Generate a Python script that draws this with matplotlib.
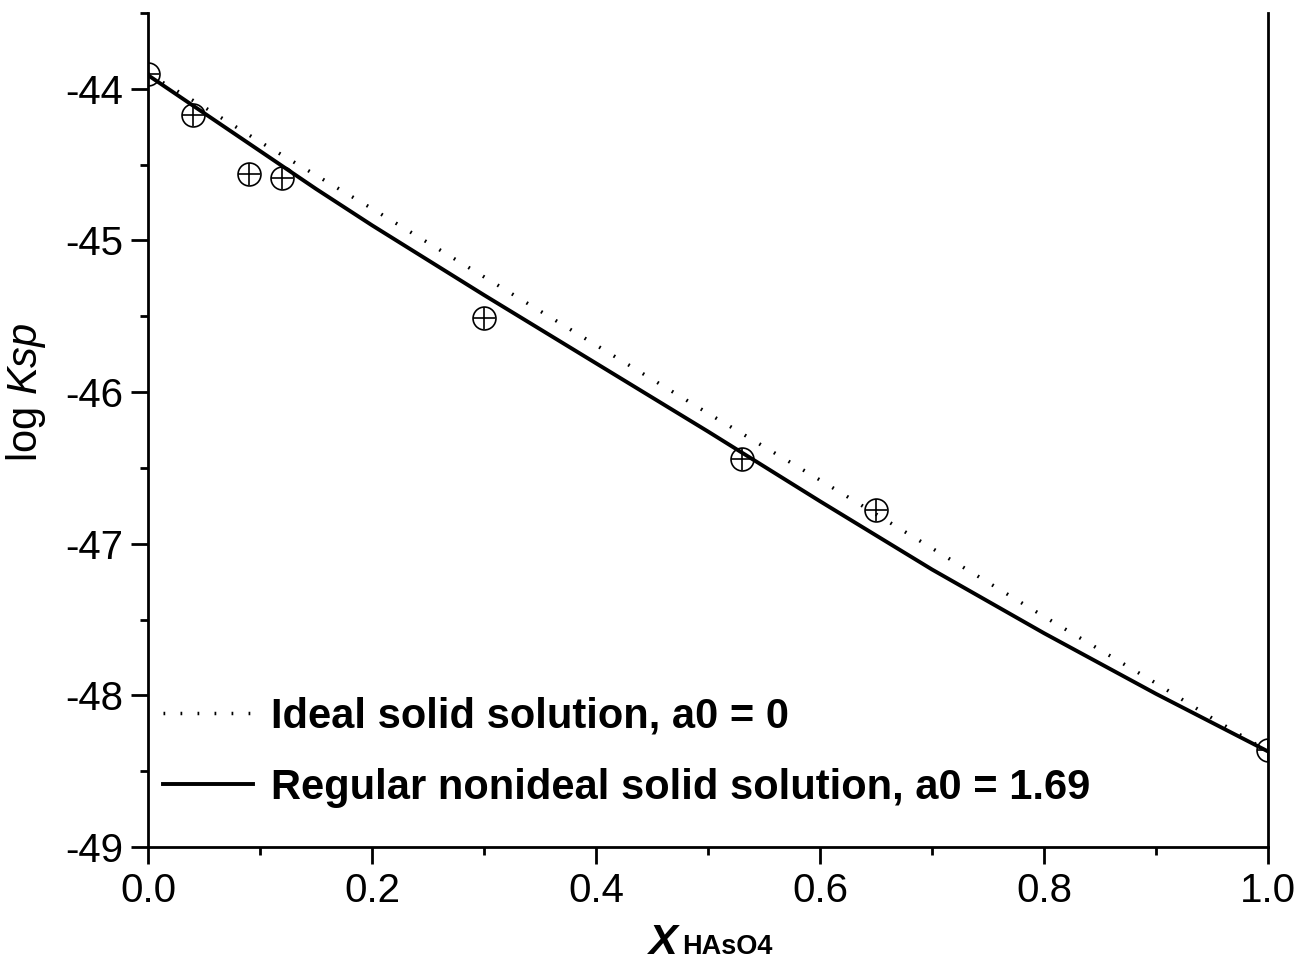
import matplotlib
matplotlib.use("Agg")
import matplotlib.pyplot as plt
from matplotlib.ticker import MultipleLocator, FormatStrFormatter

plt.rcParams['font.family'] = ['Liberation Sans', 'DejaVu Sans']
plt.rcParams['mathtext.fontset'] = 'custom'
plt.rcParams['mathtext.rm'] = 'Liberation Sans'
plt.rcParams['mathtext.it'] = 'Liberation Sans:italic'
plt.rcParams['axes.unicode_minus'] = False

# measured log Ksp vs mole fraction of HAsO4
x_data = [0.0, 0.04, 0.09, 0.12, 0.30, 0.53, 0.65, 1.0]
logksp_data = [-43.90, -44.17, -44.56, -44.59, -45.51, -46.44, -46.78, -48.36]

# model curves
x_curve = [0.0, 0.05, 0.1, 0.15, 0.2, 0.3, 0.4, 0.5, 0.6, 0.7, 0.8, 0.85, 0.9, 0.95, 1.0]
ideal = [-43.90, -44.12, -44.35, -44.57, -44.79, -45.24, -45.69, -46.14, -46.58,
         -47.03, -47.48, -47.70, -47.92, -48.15, -48.37]
regular = [-43.91, -44.16, -44.41, -44.66, -44.90, -45.36, -45.81, -46.26, -46.72,
           -47.17, -47.59, -47.79, -47.99, -48.18, -48.37]

fig = plt.figure(figsize=(13.09, 9.65), dpi=100)
ax = fig.add_axes([0.1131, 0.1223, 0.8556, 0.8642])

ax.plot(x_curve, ideal, color='black', lw=2.5, dashes=(0.5, 4.4),
        label='Ideal solid solution, a0 = 0')
ax.plot(x_curve, regular, color='black', lw=2.8,
        label='Regular nonideal solid solution, a0 = 1.69')
ax.plot(x_data, logksp_data, 'o', ms=16.5, mfc='none', mec='black', mew=1.2)
ax.plot(x_data, logksp_data, '+', ms=16.5, mec='black', mew=1.2)

ax.set_xlim(0, 1.0)
ax.set_ylim(-49, -43.5)
ax.xaxis.set_major_locator(MultipleLocator(0.2))
ax.xaxis.set_minor_locator(MultipleLocator(0.1))
ax.yaxis.set_major_locator(MultipleLocator(1))
ax.yaxis.set_minor_locator(MultipleLocator(0.5))
ax.xaxis.set_major_formatter(FormatStrFormatter('%.1f'))
ax.yaxis.set_major_formatter(FormatStrFormatter('%d'))

for s in ['left', 'bottom', 'right']:
    ax.spines[s].set_linewidth(2)
ax.spines['top'].set_visible(False)
ax.tick_params(which='both', direction='out', width=2, labelsize=29,
               top=False, right=False)
ax.tick_params(which='major', length=12, pad=6)
ax.tick_params(which='minor', length=6)

ax.set_ylabel('log $\\it{Ksp}$', fontsize=30)
ax.yaxis.set_label_coords(-0.0895, 0.5456)

# x label: big bold italic X followed by smaller bold HAsO4 on the same baseline
fig.text(678 / 1309, 1 - 954 / 965, 'X', fontsize=31, fontweight='bold',
         fontstyle='italic', ha='right', va='baseline')
fig.text(682 / 1309, 1 - 954 / 965, 'HAsO4', fontsize=19.5, fontweight='bold',
         ha='left', va='baseline')

ax.legend(loc='upper left', bbox_to_anchor=(0.0134, 0.180), frameon=False,
          borderpad=0, borderaxespad=0, handlelength=2.16, handletextpad=0.42,
          labelspacing=0.74, prop={'size': 30, 'weight': 'bold'})

fig.savefig('out.png', dpi=100)
